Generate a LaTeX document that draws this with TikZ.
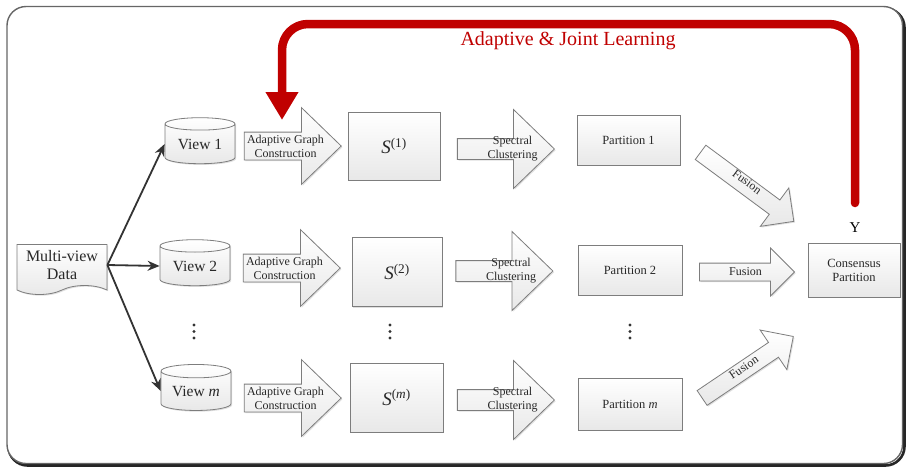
\documentclass[tikz,border=0pt]{standalone}
\usepackage{fontspec}
\setmainfont{Liberation Serif}
\usetikzlibrary{shapes.geometric,shapes.arrows,shapes.symbols,shadows,arrows.meta}

\definecolor{loopred}{RGB}{192,0,0}
\definecolor{boxline}{RGB}{125,125,125}
\definecolor{inktext}{RGB}{40,40,40}

\begin{document}
\begin{tikzpicture}[x=1pt,y=-1pt,
  every node/.style={font=\fontsize{12.5}{14}\selectfont, text=inktext},
  softshadow/.style={drop shadow={shadow xshift=1.2pt, shadow yshift=-1.2pt, opacity=0.25}},
  panel/.style={draw=boxline, line width=0.8pt, top color=white, bottom color=black!9, softshadow},
  stagebox/.style={panel, rectangle, inner sep=0pt},
  datadoc/.style={panel, tape, tape bend top=none, tape bend bottom=in and out, tape bend height=9pt,
    minimum width=90, minimum height=50, align=center, inner sep=1pt, font=\fontsize{16}{18}\selectfont},
  viewcyl/.style={panel, cylinder, shape border rotate=90, aspect=0.28,
    minimum width=70, minimum height=46, inner sep=0pt, font=\fontsize{15.5}{17}\selectfont},
  blockarrow/.style={panel, single arrow, inner xsep=0pt},
  arrowtext/.style={align=center, inner sep=0pt, font=\fontsize{12}{14}\selectfont, text=inktext},
  agc/.style={blockarrow, minimum height=97, minimum width=76, inner ysep=13.5,
    single arrow head extend=24.5, single arrow tip angle=88,
    label={[arrowtext]center:Adaptive Graph\\Construction}},
  spectral/.style={blockarrow, minimum height=97, minimum width=78, inner ysep=10,
    single arrow head extend=29, single arrow tip angle=88,
    label={[arrowtext, xshift=12pt]center:Spectral\\Clustering}},
  fusionarrow/.style={blockarrow, minimum width=47, inner ysep=8.5,
    single arrow head extend=15, single arrow tip angle=90},
  feed/.style={draw=black!80, line width=1.8pt, -{Stealth[length=12pt,width=10pt]}},
  loopline/.style={draw=loopred, line width=8.5pt, line cap=round, rounded corners=26pt,
    -{Triangle[width=31pt,length=28pt]}},
  gapdot/.style={circle, fill=black!80, inner sep=0pt, minimum size=3.2pt}
]
\useasboundingbox (0,0) rectangle (907,469);

% outer frame with a dark edge on the right and bottom
\draw[black!85, line width=2.6pt, rounded corners=19pt] (8.5,8.5) rectangle (904.5,465.5);
\draw[black!60, line width=1.4pt, fill=white, rounded corners=19pt] (7,6.5) rectangle (902.5,463.5);

% input data and the views
\node[datadoc] (data) at (62,265) {Multi-view\\Data};
\node[viewcyl] (v1) at (200,144) {View 1};
\node[viewcyl] (v2) at (195,266) {View 2};
\node[viewcyl] (vm) at (196,391) {View \textit{m}};

\draw[feed] (data.east) -- (v1.west);
\draw[feed] (data.east) -- (v2.west);
\draw[feed] (data.east) -- (vm.west);

% graph construction
\node[agc] (g1) at (285.5,146) {};
\node[agc] (g2) at (284.5,268) {};
\node[agc] (gm) at (285.5,398) {};

% learned graphs
\node[stagebox, minimum width=92, minimum height=68] (s1) at (394,146)
  {\fontsize{19}{19}\selectfont\textit{S}\textsuperscript{(1)}};
\node[stagebox, minimum width=90, minimum height=69] (s2) at (397,272)
  {\fontsize{19}{19}\selectfont\textit{S}\textsuperscript{(2)}};
\node[stagebox, minimum width=93, minimum height=69] (sm) at (396.5,397.5)
  {\fontsize{19}{19}\selectfont\textit{S}\textsuperscript{(\textit{m})}};

% spectral clustering
\node[spectral] (c1) at (500.5,149) {};
\node[spectral] (c2) at (499,271) {};
\node[spectral] (cm) at (500.5,400) {};

% partitions
\node[stagebox, minimum width=103, minimum height=50] (p1) at (628.5,140) {Partition 1};
\node[stagebox, minimum width=104, minimum height=50] (p2) at (630,270) {Partition 2};
\node[stagebox, minimum width=104, minimum height=52] (pm) at (630,404) {Partition \textit{m}};

% fusion
\node[fusionarrow, minimum height=116, rotate=-36.5,
  label={[arrowtext, rotate=-36.5, xshift=1.5pt, yshift=4pt]center:Fusion}] (f1) at (743.6,184.2) {};
\node[fusionarrow, minimum height=95,
  label={[arrowtext, xshift=3pt]center:Fusion}] (f2) at (742.5,272) {};
\node[fusionarrow, minimum height=110, rotate=34,
  label={[arrowtext, rotate=34, xshift=1pt, yshift=2pt]center:Fusion}] (fm) at (744,369.7) {};

\node[stagebox, minimum width=92, minimum height=54, align=center] (cons) at (854,270)
  {Consensus\\Partition};
\node[font=\fontsize{15}{15}\selectfont, text=black] (ylab) at (855,228) {Y};

% continuity dots between the rows
\foreach \px/\nm in {194/v, 390/s, 630/p}{
  \node[gapdot] (\nm dot1) at (\px,325) {};
  \node[gapdot] (\nm dot2) at (\px,331.5) {};
  \node[gapdot] (\nm dot3) at (\px,338) {};
}

% feedback loop
\coordinate (loopstart) at (855,203);
\coordinate (looptop) at (568,24);
\coordinate (looptip) at (282,120);
\draw[loopline] (loopstart) |- (looptop) -| (looptip);
\node[text=loopred, font=\fontsize{20}{22}\selectfont] (title) at (568,41) {Adaptive \& Joint Learning};
\end{tikzpicture}
\end{document}
